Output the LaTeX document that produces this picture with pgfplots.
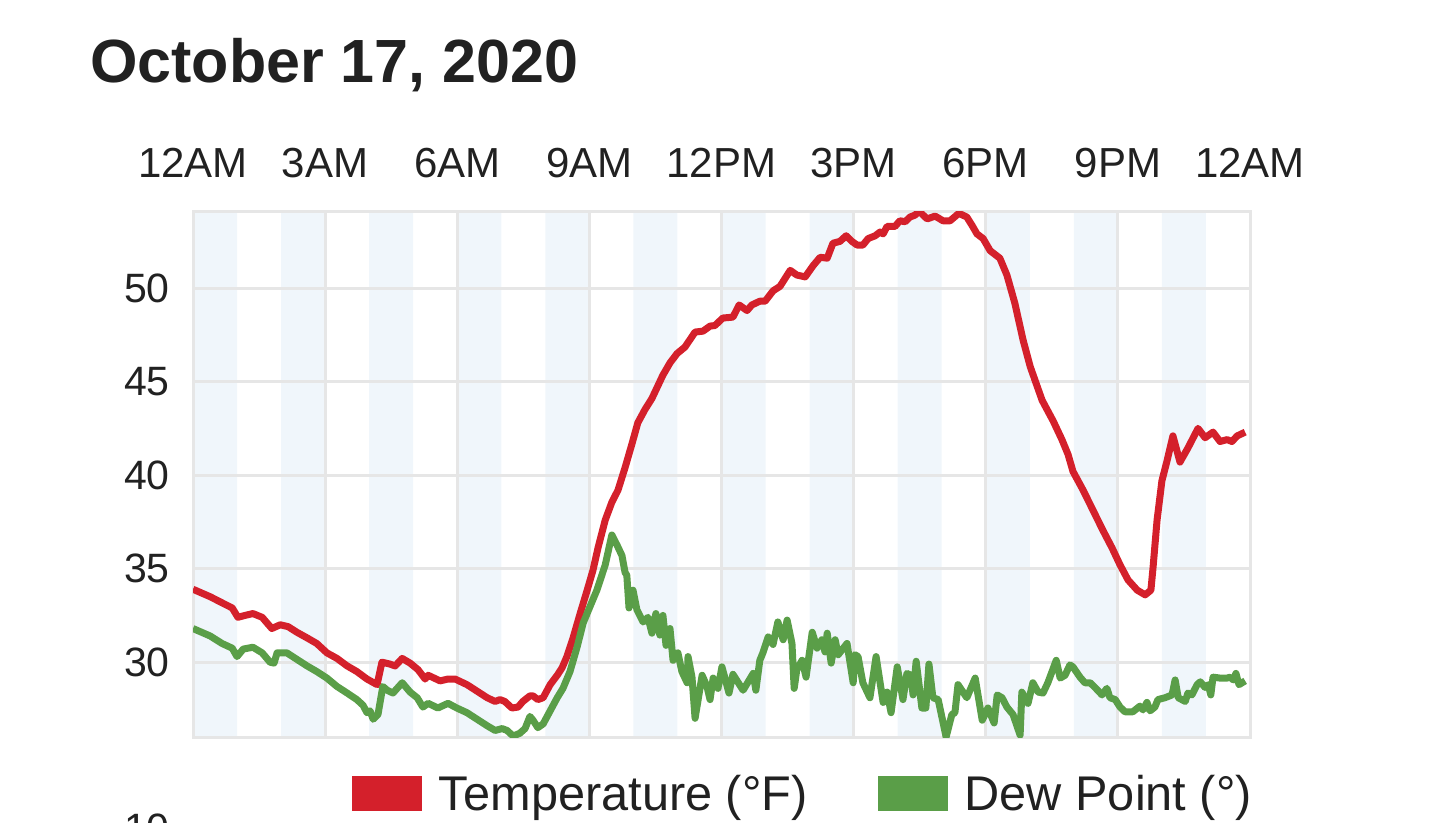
\documentclass[border=0pt]{standalone}
\usepackage{fontspec}
\setmainfont{Liberation Sans}
\usepackage{pgfplots}
\pgfplotsset{compat=1.18}
\definecolor{tempred}{RGB}{212,32,43}
\definecolor{dewgreen}{RGB}{90,158,72}
\definecolor{gridgray}{RGB}{230,230,230}
\definecolor{bandblue}{RGB}{240,246,251}
\definecolor{txt}{RGB}{33,33,33}
\begin{document}
\begin{tikzpicture}
\begin{axis}[
  at={(0pt,0pt)}, anchor=south west, scale only axis,
  width=1057pt, height=525pt,
  xmin=0, xmax=24, ymin=26, ymax=54.07,
  set layers,
  xtick={0,3,...,24},
  xticklabels={12AM,3AM,6AM,9AM,12PM,3PM,6PM,9PM,12AM},
  xticklabel pos=upper,
  ytick={30,35,40,45,50},
  major tick length=0pt,
  tick style={draw=none},
  grid=major,
  grid style={draw=gridgray, line width=3pt},
  axis line style={draw=gridgray, line width=3pt},
  xticklabel style={font=\fontsize{42}{42}\selectfont, text=txt, anchor=south, inner sep=0pt, yshift=34pt},
  yticklabel style={font=\fontsize{41}{41}\selectfont, text=txt, anchor=east, inner sep=0pt, xshift=-23pt},
  /pgf/number format/assume math mode=true,
  legend columns=2,
  legend style={at={(0.1504,-0.1076)}, anchor=west, draw=none, fill=none,
    inner sep=0pt, outer sep=0pt, font=\fontsize{48.7}{48.7}\selectfont, text=txt,
    nodes={inner sep=0pt},
    /tikz/every odd column/.append style={column sep=17pt},
    /tikz/every even column/.append style={column sep=70pt}},
  legend image code/.code={\fill[#1, draw=none] (0pt,-17.5pt) rectangle (70pt,17.5pt);},
]
\addplot[forget plot, fill=bandblue, draw=none, on layer=axis background]
  coordinates {(0,26) (0,54.07) (1,54.07) (1,26) (2,26) (2,54.07) (3,54.07) (3,26)
  (4,26) (4,54.07) (5,54.07) (5,26) (6,26) (6,54.07) (7,54.07) (7,26)
  (8,26) (8,54.07) (9,54.07) (9,26) (10,26) (10,54.07) (11,54.07) (11,26)
  (12,26) (12,54.07) (13,54.07) (13,26) (14,26) (14,54.07) (15,54.07) (15,26)
  (16,26) (16,54.07) (17,54.07) (17,26) (18,26) (18,54.07) (19,54.07) (19,26)
  (20,26) (20,54.07) (21,54.07) (21,26) (22,26) (22,54.07) (23,54.07) (23,26)} -- cycle;

\addplot[color=tempred, line width=7pt, line join=round, mark=none] coordinates {
(0.00,33.9) (0.39,33.5) (0.68,33.15) (0.89,32.9) (1.02,32.4) (1.18,32.5) (1.36,32.6)
(1.57,32.4) (1.79,31.8) (1.98,32.0) (2.16,31.9) (2.36,31.6) (2.59,31.3) (2.81,31.0)
(3.04,30.5) (3.27,30.2) (3.50,29.8) (3.72,29.5) (3.95,29.1) (4.18,28.8) (4.29,30.0)
(4.47,29.9) (4.59,29.8) (4.75,30.2) (4.93,29.95) (5.11,29.6) (5.27,29.1) (5.34,29.3)
(5.61,29.0) (5.79,29.1) (5.95,29.1) (6.22,28.8) (6.45,28.45) (6.68,28.1) (6.86,27.9)
(6.97,28.0) (7.08,27.9) (7.24,27.55) (7.38,27.6) (7.49,27.9) (7.65,28.2) (7.72,28.2)
(7.83,28.0) (7.95,28.1) (8.11,28.8) (8.27,29.3) (8.38,29.7) (8.49,30.3) (8.63,31.3)
(8.79,32.6) (8.95,33.85) (9.08,34.9) (9.20,36.15) (9.36,37.6) (9.51,38.55) (9.65,39.2)
(9.81,40.4) (9.97,41.7) (10.10,42.8) (10.26,43.5) (10.42,44.1) (10.54,44.7) (10.67,45.35)
(10.83,46.0) (10.99,46.5) (11.17,46.85) (11.40,47.65) (11.58,47.7) (11.74,47.97) (11.85,48.0)
(12.03,48.4) (12.26,48.45) (12.40,49.1) (12.58,48.8) (12.69,49.1) (12.87,49.3) (12.99,49.3)
(13.17,49.85) (13.33,50.1) (13.56,50.95) (13.71,50.7) (13.90,50.6) (14.08,51.2) (14.24,51.65)
(14.40,51.6) (14.53,52.4) (14.69,52.5) (14.83,52.8) (14.96,52.5) (15.08,52.3) (15.21,52.3)
(15.33,52.65) (15.49,52.8) (15.60,53.0) (15.67,52.9) (15.76,53.3) (15.94,53.3) (16.05,53.6)
(16.17,53.55) (16.28,53.8) (16.39,53.9) (16.49,54.1) (16.67,53.7) (16.85,53.85) (17.03,53.6)
(17.19,53.6) (17.39,54.0) (17.57,53.8) (17.69,53.35) (17.80,52.9) (17.94,52.65) (18.10,52.0)
(18.32,51.6) (18.48,50.7) (18.66,49.2) (18.85,47.2) (19.01,45.8) (19.28,44.0) (19.53,42.9)
(19.73,41.9) (19.87,41.1) (19.98,40.2) (20.21,39.2) (20.44,38.1) (20.66,37.05) (20.87,36.1)
(21.05,35.2) (21.23,34.4) (21.44,33.85) (21.62,33.6) (21.75,33.85) (21.80,35.1) (21.89,37.6)
(22.00,39.7) (22.12,40.8) (22.25,42.1) (22.41,40.7) (22.59,41.45) (22.82,42.5) (22.98,42.0)
(23.16,42.3) (23.32,41.8) (23.48,41.9) (23.59,41.8) (23.71,42.1) (23.89,42.3)
};
\addlegendentry{Temperature (°F)}

\addplot[color=dewgreen, line width=7pt, line join=round, mark=none] coordinates {
(0.00,31.8) (0.39,31.4) (0.66,31.0) (0.89,30.75) (1.00,30.3) (1.14,30.7) (1.36,30.8)
(1.57,30.5) (1.75,30.0) (1.84,29.95) (1.91,30.5) (2.13,30.5) (2.36,30.15) (2.59,29.8)
(2.81,29.5) (3.04,29.15) (3.27,28.7) (3.50,28.35) (3.72,28.0) (3.86,27.7) (3.95,27.3)
(4.02,27.4) (4.09,26.95) (4.20,27.2) (4.31,28.7) (4.41,28.5) (4.54,28.35) (4.75,28.9)
(4.93,28.4) (5.09,28.1) (5.22,27.6) (5.34,27.8) (5.56,27.55) (5.79,27.8) (5.99,27.55)
(6.22,27.3) (6.45,26.95) (6.68,26.6) (6.86,26.35) (7.02,26.45) (7.13,26.35) (7.27,26.05)
(7.42,26.2) (7.54,26.45) (7.65,27.1) (7.72,26.9) (7.83,26.5) (7.95,26.7) (8.11,27.4)
(8.27,28.1) (8.40,28.6) (8.56,29.5) (8.72,30.8) (8.86,32.1) (9.01,32.95) (9.17,33.85)
(9.36,35.2) (9.51,36.8) (9.63,36.25) (9.74,35.7) (9.81,34.8) (9.85,34.65) (9.90,32.9)
(9.99,33.85) (10.08,32.8) (10.22,32.15) (10.33,32.4) (10.42,31.55) (10.51,32.6) (10.60,31.45)
(10.67,32.5) (10.74,30.9) (10.83,31.8) (10.90,30.1) (11.01,30.5) (11.10,29.5) (11.22,28.9)
(11.24,30.3) (11.33,29.2) (11.40,27.0) (11.56,29.3) (11.67,28.7) (11.74,28.0) (11.81,29.15)
(11.92,28.6) (12.01,29.75) (12.17,28.35) (12.26,29.35) (12.49,28.5) (12.72,29.4) (12.78,28.5)
(12.87,30.1) (12.94,30.5) (13.06,31.35) (13.17,30.95) (13.28,32.15) (13.40,31.2) (13.49,32.25)
(13.60,31.0) (13.65,28.6) (13.71,29.6) (13.83,30.1) (13.92,29.2) (14.06,31.6) (14.17,30.75)
(14.28,31.2) (14.35,30.55) (14.40,31.55) (14.49,29.95) (14.58,31.2) (14.65,30.4) (14.85,31.0)
(14.99,28.9) (15.03,30.4) (15.10,30.3) (15.21,28.9) (15.37,28.1) (15.51,30.3) (15.67,27.85)
(15.76,28.4) (15.85,27.3) (15.99,29.75) (16.12,28.0) (16.21,29.4) (16.30,29.3) (16.35,28.25)
(16.42,30.05) (16.55,27.55) (16.64,27.55) (16.71,29.9) (16.80,28.1) (16.92,28.0) (17.10,26.0)
(17.23,27.2) (17.30,27.3) (17.37,28.8) (17.57,28.1) (17.76,29.15) (17.92,26.9) (18.05,27.55)
(18.19,26.75) (18.26,28.25) (18.37,28.1) (18.48,27.6) (18.62,27.2) (18.78,26.1) (18.82,28.4)
(18.96,27.8) (19.07,28.9) (19.19,28.4) (19.30,28.35) (19.41,28.9) (19.60,30.1) (19.69,29.15)
(19.80,29.3) (19.91,29.85) (19.98,29.75) (20.14,29.2) (20.25,28.9) (20.37,28.9) (20.48,28.65)
(20.64,28.25) (20.75,28.6) (20.82,28.1) (20.94,28.0) (21.05,27.6) (21.16,27.35) (21.34,27.35)
(21.50,27.65) (21.57,27.45) (21.66,27.85) (21.73,27.4) (21.84,27.6) (21.91,28.0) (22.07,28.1)
(22.23,28.25) (22.30,29.05) (22.37,28.1) (22.53,27.9) (22.59,28.35) (22.68,28.25) (22.80,28.8)
(22.87,28.95) (22.98,28.65) (23.05,28.8) (23.11,28.25) (23.16,29.2) (23.32,29.15) (23.48,29.15)
(23.55,29.2) (23.62,29.05) (23.68,29.4) (23.75,28.8) (23.89,29.0)
};
\addlegendentry{Dew Point (°)}
\end{axis}
\node[anchor=base west, inner sep=0pt, text=txt, font=\bfseries\fontsize{61}{61}\selectfont] at (-103pt,654pt) {October 17, 2020};
\node[anchor=east, inner sep=0pt, text=txt, font=\fontsize{41}{41}\selectfont] at (-23pt,-91pt) {10};
\pgfresetboundingbox
\path[use as bounding box] (-193pt,-85pt) rectangle (1247pt,737pt);
\end{tikzpicture}
\end{document}
